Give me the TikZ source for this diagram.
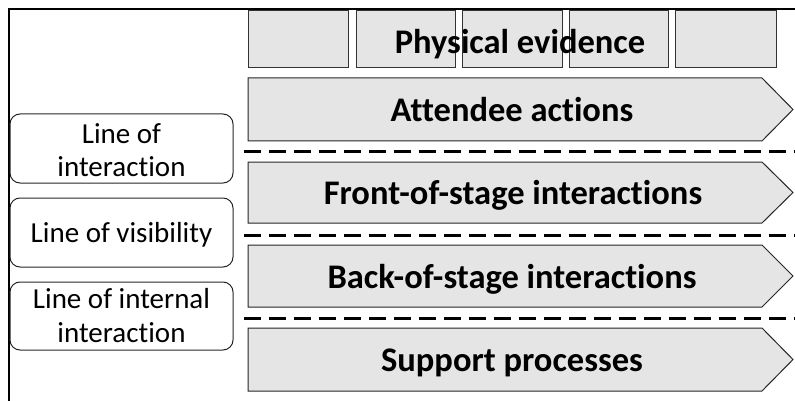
\documentclass[tikz,border=0pt]{standalone}
\usepackage{fontspec}
\setmainfont{Carlito}[Ligatures={NoCommon}]
\begin{document}
\begin{tikzpicture}[x=1pt,y=-1pt,
  frame/.style={line width=2pt},
  pebox/.style={draw=black!80, fill=black!10, line width=1pt, minimum height=57pt, inner sep=0pt},
  lanearrow/.style={draw=black!85, fill=black!10, line width=1pt, line join=miter},
  lbox/.style={draw=black!85, rounded corners=10pt, line width=1pt, minimum width=223pt, inner sep=0pt},
  btext/.style={font=\fontsize{34.5}{40}\selectfont\bfseries, inner sep=0pt, anchor=base},
  ltext/.style={font=\fontsize{29}{33.5}\selectfont, align=center, inner sep=0pt, anchor=base},
  sepline/.style={line width=3pt, dash pattern=on 17pt off 8pt}
]
\useasboundingbox (0,0) rectangle (795,401);
% frame
\coordinate (ftr) at (795,9.5);
\coordinate (ftl) at (8.5,9.5);
\coordinate (fbl) at (8.5,401);
\draw[frame] (ftr) -- (ftl) -- (fbl);
% physical evidence boxes
\node[pebox, minimum width=100pt] (pe1) at (298,39) {};
\node[pebox, minimum width=99pt] (pe2) at (405.5,39) {};
\node[pebox, minimum width=100pt] (pe3) at (512,39) {};
\node[pebox, minimum width=99pt] (pe4) at (618.5,39) {};
\node[pebox, minimum width=101pt] (pe5) at (725.5,39) {};
\node[btext] (petext) at (520,53.3) {Physical evidence};
% lanes
\draw[lanearrow] (248,78) -- (762,78) -- (793,109.5) -- (762,141) -- (248,141) -- cycle;
\node[btext] (att) at (512,121.5) {Attendee actions};
\draw[lanearrow] (248,162) -- (762,162) -- (793,192.5) -- (762,223) -- (248,223) -- cycle;
\node[btext] (front) at (513,204.5) {Front-of-stage interactions};
\draw[lanearrow] (248,245) -- (762,245) -- (793,276) -- (762,307) -- (248,307) -- cycle;
\node[btext] (back) at (512,288) {Back-of-stage interactions};
\draw[lanearrow] (248,328) -- (762,328) -- (793,359.5) -- (762,391) -- (248,391) -- cycle;
\node[btext] (supp) at (512,371.5) {Support processes};
% separator lines
\coordinate (s1a) at (244,152); \coordinate (s1b) at (795,152);
\coordinate (s2a) at (244,235); \coordinate (s2b) at (795,235);
\coordinate (s3a) at (244,318); \coordinate (s3b) at (795,318);
\draw[sepline] (s1a) -- (s1b);
\draw[sepline] (s2a) -- (s2b);
\draw[sepline] (s3a) -- (s3b);
% left labels
\node[lbox, minimum height=69pt] (l1) at (121.5,148.5) {};
\node[lbox, minimum height=69pt] (l2) at (121.5,232.5) {};
\node[lbox, minimum height=68pt] (l3) at (121.5,316) {};
\node[ltext] (l1t) at (121.5,176.7) {Line of\\interaction};
\node[ltext] (l2t) at (121.5,242.7) {Line of visibility};
\node[ltext] (l3t) at (121.5,342) {Line of internal\\interaction};
\end{tikzpicture}
\end{document}
